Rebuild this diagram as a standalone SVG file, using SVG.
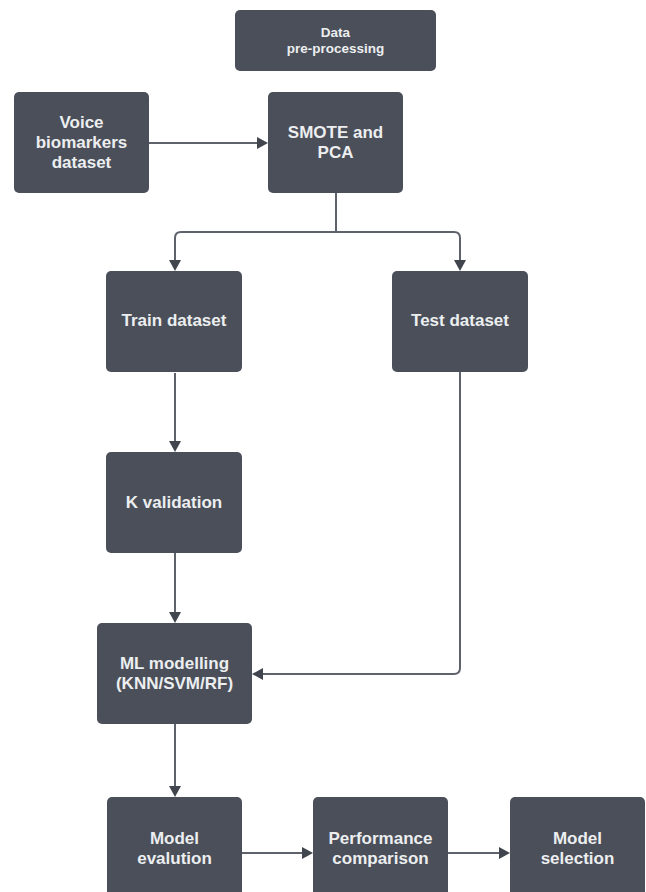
<svg xmlns="http://www.w3.org/2000/svg" width="646" height="892" viewBox="0 0 646 892">
<style>
.box{fill:#4a4f59;stroke:none}
.t{font-family:"Liberation Sans",Arial,sans-serif;font-weight:700;fill:#eceef0;text-anchor:middle;dominant-baseline:central;font-size:17px}
.s{font-size:13.5px}
.c{fill:none;stroke:#5d626b;stroke-width:2}
</style>
<defs>
<marker id="ah" markerUnits="userSpaceOnUse" markerWidth="11" markerHeight="12" refX="0" refY="6" orient="auto" viewBox="0 0 11 12">
<path d="M0,0 L11,6 L0,12 z" fill="#40454e"/>
</marker>
</defs>
<rect width="646" height="892" fill="#ffffff"/>
<g id="connectors">
<path class="c" d="M149,143 H257" marker-end="url(#ah)"/>
<path class="c" d="M336,193 V232 H181 Q175,232 175,238 V260" marker-end="url(#ah)"/>
<path class="c" d="M336,232 H454 Q460,232 460,238 V260" marker-end="url(#ah)"/>
<path class="c" d="M175,373 V441" marker-end="url(#ah)"/>
<path class="c" d="M175,553 V612" marker-end="url(#ah)"/>
<path class="c" d="M460,372 V668 Q460,674 454,674 H263" marker-end="url(#ah)"/>
<path class="c" d="M175,724 V786" marker-end="url(#ah)"/>
<path class="c" d="M242,853 H302" marker-end="url(#ah)"/>
<path class="c" d="M448,853 H499" marker-end="url(#ah)"/>
</g>
<g id="data-preprocessing">
<rect class="box" x="235" y="10" width="201" height="61" rx="5"/>
<text class="t s" x="335.5" y="32">Data</text>
<text class="t s" x="335.5" y="48">pre-processing</text>
</g>
<g id="voice-biomarkers">
<rect class="box" x="14" y="92" width="135" height="101" rx="5"/>
<text class="t" x="81.5" y="122">Voice</text>
<text class="t" x="81.5" y="142">biomarkers</text>
<text class="t" x="81.5" y="162">dataset</text>
</g>
<g id="smote-pca">
<rect class="box" x="268" y="92" width="135" height="101" rx="5"/>
<text class="t" x="335.5" y="132">SMOTE and</text>
<text class="t" x="335.5" y="152">PCA</text>
</g>
<g id="train-dataset">
<rect class="box" x="106" y="271" width="136" height="101" rx="5"/>
<text class="t" x="174" y="320">Train dataset</text>
</g>
<g id="test-dataset">
<rect class="box" x="392" y="271" width="136" height="101" rx="5"/>
<text class="t" x="460" y="320">Test dataset</text>
</g>
<g id="k-validation">
<rect class="box" x="106" y="452" width="136" height="101" rx="5"/>
<text class="t" x="174" y="502">K validation</text>
</g>
<g id="ml-modelling">
<rect class="box" x="97" y="623" width="155" height="101" rx="5"/>
<text class="t" x="174.5" y="663">ML modelling</text>
<text class="t" x="174.5" y="683">(KNN/SVM/RF)</text>
</g>
<g id="model-evaluation">
<rect class="box" x="107" y="797" width="135" height="110" rx="5"/>
<text class="t" x="174.5" y="838">Model</text>
<text class="t" x="174.5" y="858">evalution</text>
</g>
<g id="performance-comparison">
<rect class="box" x="313" y="797" width="135" height="110" rx="5"/>
<text class="t" x="380.5" y="838">Performance</text>
<text class="t" x="380.5" y="858">comparison</text>
</g>
<g id="model-selection">
<rect class="box" x="510" y="797" width="135" height="110" rx="5"/>
<text class="t" x="577.5" y="838">Model</text>
<text class="t" x="577.5" y="858">selection</text>
</g>
</svg>
